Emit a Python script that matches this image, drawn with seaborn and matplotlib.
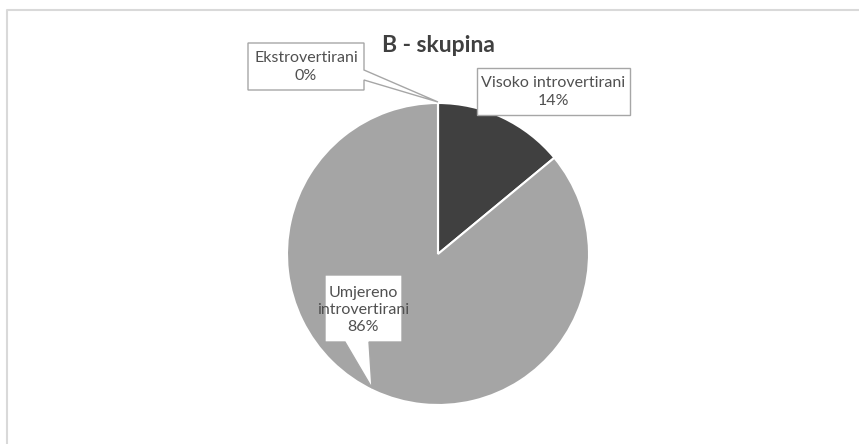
import matplotlib
matplotlib.use("Agg")
import matplotlib.pyplot as plt
import seaborn as sns
from matplotlib.patches import Polygon

categories = ["Visoko introvertirani", "Umjereno introvertirani", "Ekstrovertirani"]
values = [14, 86, 0]
label_lines = ["Visoko introvertirani\n14%", "Umjereno\nintrovertirani\n86%", "Ekstrovertirani\n0%"]
colors = ["#404040", "#a5a5a5", "#7f7f7f"]
title = "B - skupina"

sns.set_theme(style="white")
plt.rcParams['font.family'] = ['Lato', 'DejaVu Sans']

fig = plt.figure(figsize=(8.59, 4.44), dpi=100)
ax = fig.add_axes([0, 0, 1, 1])

# chart frame (only top and left visible in the crop)
ax.plot([7, 7, 859], [444, 10.5, 10.5], color="#d9d9d9", lw=1.5, solid_capstyle="butt")

ax.pie(values, colors=colors, startangle=-90, counterclock=True,
       center=(438, 254), radius=151,
       wedgeprops=dict(edgecolor="white", linewidth=1.5), frame=True)
ax.set_xlim(0, 859)
ax.set_ylim(444, 0)
ax.axis("off")

ax.text(438, 45, title, ha="center", va="center", fontsize=16.5,
        fontweight="bold", color="#404040")

edge = "#a6a6a6"
txtc = "#505050"

# Visoko callout (plain box)
vbox = [(477, 68), (630, 68), (630, 115), (477, 115)]
ax.add_patch(Polygon(vbox, closed=True, fc="white", ec=edge, lw=1, zorder=5))
ax.text(553.5, 92, label_lines[0], ha="center", va="center", fontsize=11.5,
        color=txtc, linespacing=1.3, zorder=6)

# Ekstrovertirani callout with pointer to pie top
ebox = [(248, 43), (364, 43), (364, 70), (438, 102), (364, 80), (364, 90), (248, 90)]
ax.add_patch(Polygon(ebox, closed=True, fc="white", ec=edge, lw=1, zorder=5))
ax.text(306, 67, label_lines[2], ha="center", va="center", fontsize=11.5,
        color=txtc, linespacing=1.3, zorder=6)

# Umjereno callout with pointer downward
ubox = [(325, 275), (402, 275), (402, 342), (369, 342), (372, 388), (345, 342), (325, 342)]
ax.add_patch(Polygon(ubox, closed=True, fc="white", ec=edge, lw=1, zorder=5))
ax.text(363.5, 310, label_lines[1], ha="center", va="center", fontsize=11.5,
        color=txtc, linespacing=1.3, zorder=6)

fig.savefig("out.png", dpi=100)
